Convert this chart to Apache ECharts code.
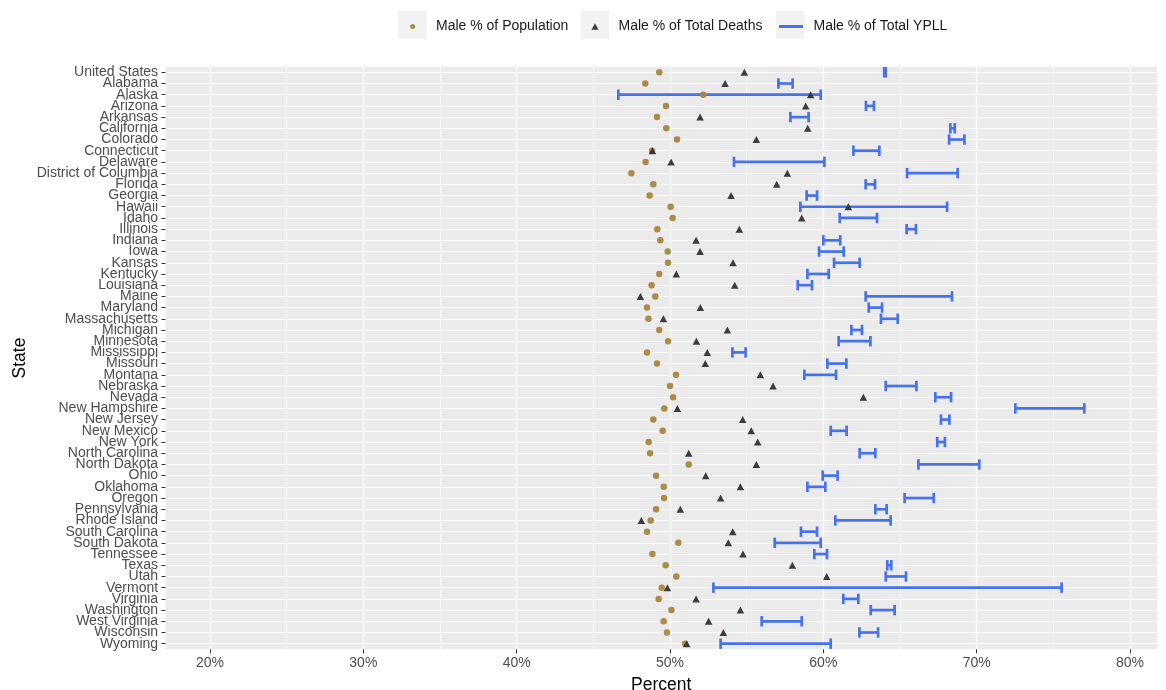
<!DOCTYPE html>
<html>
<head>
<meta charset="utf-8">
<script src="https://cdn.jsdelivr.net/npm/echarts@6/dist/echarts.min.js"></script>
<style>
html,body{margin:0;padding:0;background:#fff;}
#chart{width:1166px;height:690px;}
</style>
</head>
<body>
<div id="chart"></div>
<script>
const states = ["United States","Alabama","Alaska","Arizona","Arkansas","California","Colorado","Connecticut","Delaware","District of Columbia","Florida","Georgia","Hawaii","Idaho","Illinois","Indiana","Iowa","Kansas","Kentucky","Louisiana","Maine","Maryland","Massachusetts","Michigan","Minnesota","Mississippi","Missouri","Montana","Nebraska","Nevada","New Hampshire","New Jersey","New Mexico","New York","North Carolina","North Dakota","Ohio","Oklahoma","Oregon","Pennsylvania","Rhode Island","South Carolina","South Dakota","Tennessee","Texas","Utah","Vermont","Virginia","Washington","West Virginia","Wisconsin","Wyoming"];

const malePopulation = [49.30,48.39,52.17,49.74,49.15,49.76,50.46,48.83,48.41,47.48,48.91,48.67,50.04,50.17,49.17,49.37,49.85,49.87,49.30,48.80,49.04,48.50,48.59,49.30,49.87,48.50,49.15,50.39,50.00,50.20,49.63,48.91,49.52,48.61,48.70,51.22,49.09,49.59,49.61,49.09,48.74,48.50,50.54,48.85,49.72,50.41,49.46,49.26,50.09,49.59,49.80,50.98];

const maleDeaths = [54.85,53.59,59.17,58.85,51.96,58.98,55.63,48.85,50.07,57.65,56.96,53.98,61.63,58.59,54.52,51.70,51.96,54.11,50.41,54.22,48.07,51.98,49.57,53.74,51.72,52.43,52.30,55.89,56.72,62.61,50.48,54.74,55.30,55.72,51.22,55.63,52.33,54.59,53.30,50.67,48.13,54.09,53.80,54.76,57.98,60.22,49.83,51.70,54.59,52.52,53.48,51.09];

const ypllLow = [63.97,57.07,46.63,62.78,57.85,68.28,68.20,61.96,54.17,65.46,62.76,58.91,58.50,61.07,65.43,60.00,59.72,60.70,58.96,58.33,62.76,62.96,63.76,61.83,61.00,54.07,60.26,58.76,64.07,67.30,72.52,67.67,60.48,67.43,62.37,66.20,59.96,58.96,65.30,63.39,60.78,58.54,56.83,59.41,64.17,64.07,52.83,61.30,63.09,55.98,62.35,53.30];

const ypllHigh = [64.07,58.00,59.83,63.30,59.04,68.57,69.20,63.65,60.07,68.76,63.37,59.59,68.07,63.50,66.04,61.10,61.33,62.37,60.35,59.26,68.39,63.83,64.85,62.52,63.07,54.93,61.50,60.83,66.07,68.33,77.02,68.22,61.52,67.93,63.39,70.17,60.93,60.13,67.20,64.13,64.39,59.59,59.83,60.24,64.43,65.39,75.54,62.28,64.65,58.59,63.57,60.48];

const xMajorTicks = [20,30,40,50,60,70,80];
const xMinorTicks = [25,35,45,55,65,75];

const FONT = "'Liberation Sans', Arial, sans-serif";
const GOLD = '#A8863F';
const DARK = '#333333';
const BLUE = '#4672EA';

const chart = echarts.init(document.getElementById('chart'), null, {renderer:'canvas'});

const legendBase = {
  orient: 'horizontal', top: 19.5, padding: 0, selectedMode: false
};
const legendText = (pad) => ({fontFamily: FONT, fontSize: 14, color: '#1a1a1a', padding: [0, 0, 0, pad]});

const option = {
  animation: false,
  backgroundColor: '#ffffff',
  textStyle: {fontFamily: FONT},
  graphic: [
    {type:'rect', z: -10, shape:{x:398.3,y:10.7,width:28.4,height:28}, style:{fill:'#F2F2F2'}, silent:true},
    {type:'rect', z: -10, shape:{x:580.7,y:10.7,width:28.3,height:28}, style:{fill:'#F2F2F2'}, silent:true},
    {type:'rect', z: -10, shape:{x:776,y:10.7,width:28.5,height:28}, style:{fill:'#F2F2F2'}, silent:true}
  ],
  legend: [
    Object.assign({}, legendBase, {left: 410.2, itemWidth: 5, itemHeight: 5,
      data:[{name:'Male % of Population', icon:'circle'}], textStyle: legendText(15.8)}),
    Object.assign({}, legendBase, {left: 591.5, itemWidth: 7, itemHeight: 6.5,
      data:[{name:'Male % of Total Deaths', icon:'triangle'}], textStyle: legendText(15)}),
    Object.assign({}, legendBase, {left: 779, itemWidth: 24, itemHeight: 3,
      data:[{name:'Male % of Total YPLL', icon:'rect'}], textStyle: legendText(5.5)})
  ],
  grid: {left: 165.5, right: 9, top: 66.7, height: 582.6, containLabel: false, outerBoundsMode: 'none',
         show: true, backgroundColor: '#EBEBEB', borderWidth: 0},
  xAxis: [
    {
      type: 'value', min: 17.097, max: 81.76,
      name: 'Percent', nameLocation: 'middle', nameGap: 27, nameMoveOverlap: false,
      nameTextStyle: {fontFamily: FONT, fontSize: 17.5, color: '#000'},
      axisLine: {show: false},
      axisTick: {show: true, length: 4, lineStyle: {color: DARK, width: 1}, customValues: xMajorTicks},
      axisLabel: {show: true, fontFamily: FONT, fontSize: 14, color: '#4D4D4D', margin: 7,
                  customValues: xMajorTicks, formatter: v => Math.round(v) + '%'},
      splitLine: {show: true, lineStyle: {color: '#ffffff', width: 1.2}}
    },
    {
      type: 'value', min: 17.097, max: 81.76, position: 'bottom',
      axisLine: {show: false},
      axisTick: {show: false, customValues: xMinorTicks},
      axisLabel: {show: false, customValues: xMinorTicks},
      splitLine: {show: true, lineStyle: {color: '#ffffff', width: 0.6}}
    }
  ],
  yAxis: {
    type: 'category', data: states, inverse: true, boundaryGap: true,
    name: 'State', nameLocation: 'middle', nameGap: 136, nameMoveOverlap: false,
    nameTextStyle: {fontFamily: FONT, fontSize: 17.5, color: '#000'},
    axisLine: {show: false},
    axisTick: {show: true, length: 4, alignWithLabel: true, interval: 0, lineStyle: {color: DARK, width: 1}},
    axisLabel: {interval: 0, fontFamily: FONT, fontSize: 14, color: '#4D4D4D', margin: 7.4, lineHeight: 11},
    splitLine: {show: true, interval: 0, alignWithLabel: true, lineStyle: {color: '#ffffff', width: 1.2}}
  },
  series: [
    {
      name: 'Male % of Total YPLL', type: 'custom', xAxisIndex: 0,
      itemStyle: {color: BLUE},
      encode: {x: [0, 1], y: 2},
      data: states.map((s, i) => [ypllLow[i], ypllHigh[i], s]),
      renderItem: function (params, api) {
        const yi = api.value(2);
        const p1 = api.coord([api.value(0), yi]);
        const p2 = api.coord([api.value(1), yi]);
        const h = 5.2;
        const style = {stroke: BLUE, lineWidth: 2.7, fill: null};
        return {type: 'group', children: [
          {type: 'line', shape: {x1: p1[0], y1: p1[1], x2: p2[0], y2: p2[1]}, style: style},
          {type: 'line', shape: {x1: p1[0], y1: p1[1] - h, x2: p1[0], y2: p1[1] + h}, style: style},
          {type: 'line', shape: {x1: p2[0], y1: p2[1] - h, x2: p2[0], y2: p2[1] + h}, style: style}
        ]};
      },
      z: 2
    },
    {
      name: 'Male % of Population', type: 'scatter', xAxisIndex: 0,
      symbol: 'circle', symbolSize: 6.5,
      itemStyle: {color: GOLD, opacity: 0.95},
      data: states.map((s, i) => [malePopulation[i], s]),
      z: 3
    },
    {
      name: 'Male % of Total Deaths', type: 'scatter', xAxisIndex: 0,
      symbol: 'triangle', symbolSize: [7.5, 7],
      itemStyle: {color: DARK, opacity: 0.95},
      data: states.map((s, i) => [maleDeaths[i], s]),
      z: 4
    }
  ]
};
chart.setOption(option);
</script>
</body>
</html>
